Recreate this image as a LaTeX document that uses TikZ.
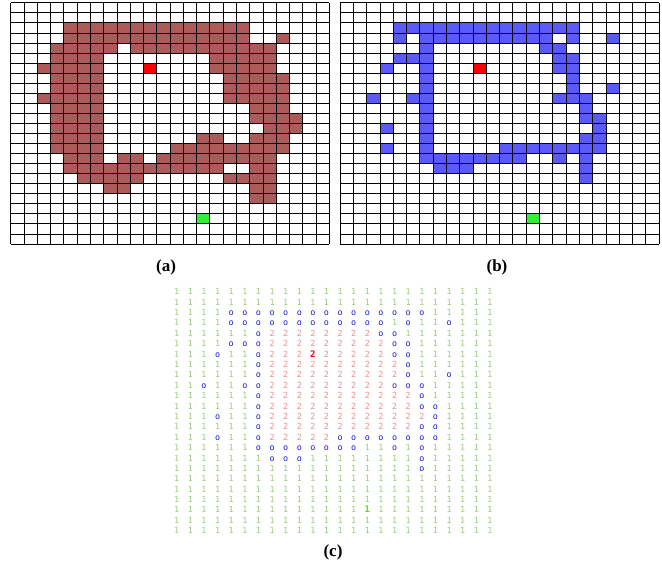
\documentclass[tikz,border=0pt]{standalone}
\usepackage{fontspec}
\newfontfamily\cellfont{DejaVu Sans Mono}
\newfontfamily\capfont{Liberation Serif}
\definecolor{wallbrown}{RGB}{172,90,90}
\definecolor{wallblue}{RGB}{90,90,250}
\definecolor{goalred}{RGB}{255,0,0}
\definecolor{startgreen}{RGB}{50,240,50}
\definecolor{freegreen}{RGB}{155,205,125}
\definecolor{obsblue}{RGB}{25,25,215}
\definecolor{insidered}{RGB}{235,140,140}
\definecolor{markred}{RGB}{235,0,0}
\definecolor{markgreen}{RGB}{90,225,0}

\begin{document}
\begin{tikzpicture}[x=1pt, y=-1pt,
  gridline/.style={black, line width=0.6pt},
  wallA/.style={fill=wallbrown},
  wallB/.style={fill=wallblue},
  goalcell/.style={fill=goalred},
  startcell/.style={fill=startgreen},
  sym/.style={font=\cellfont\fontsize{8.4}{9}\selectfont, anchor=base, inner sep=0pt},
  m1/.style={sym, text=freegreen, node contents=1},
  mo/.style={sym, text=obsblue, node contents=o},
  m2/.style={sym, text=insidered, node contents=2},
  mR/.style={sym, font=\cellfont\bfseries\fontsize{9}{9}\selectfont, text=markred, node contents=2},
  mG/.style={sym, font=\cellfont\bfseries\fontsize{9}{9}\selectfont, text=markgreen, node contents=1},
  panel/.style={font=\capfont\bfseries\fontsize{17}{17}\selectfont},
]
  \useasboundingbox (0,0) rectangle (662,564);

  % (a) occupancy grid
  \begin{scope}[shift={(10.7,2.7)}, x=13.27pt, y=-10.05pt]
    \foreach \r/\a/\b in {2/4/17, 3/4/17, 3/20/20, 4/3/7, 4/9/19, 5/3/6, 5/15/19,
        6/2/6, 6/15/19, 7/3/6, 7/16/20, 8/3/6, 8/16/20, 9/2/6, 9/16/20,
        10/3/6, 10/18/20, 11/3/6, 11/18/21, 12/3/6, 12/19/21,
        13/3/6, 13/14/15, 13/18/20, 14/3/6, 14/12/20,
        15/4/6, 15/8/9, 15/11/19, 16/4/15, 16/18/19,
        17/5/9, 17/16/19, 18/7/8, 18/18/19, 19/18/19}
      \fill[wallA] (\a,\r) rectangle (\b+1,\r+1);
    \fill[goalcell] (10,6) rectangle (11,7);
    \fill[startcell] (14,21) rectangle (15,22);
    \foreach \i in {0,...,24} {
      \draw[gridline] (\i,0) -- (\i,24);
      \draw[gridline] (0,\i) -- (24,\i);
    }
  \end{scope}

  % (b) boundary cells
  \begin{scope}[shift={(340,2.7)}, x=13.29pt, y=-10.05pt]
    \foreach \r/\a/\b in {2/4/17, 3/4/4, 3/6/15, 3/17/17, 3/20/20,
        4/6/6, 4/15/16, 5/4/6, 5/16/17, 6/3/3, 6/6/6, 6/16/17,
        7/6/6, 7/17/17, 8/6/6, 8/17/17, 8/20/20,
        9/2/2, 9/5/6, 9/16/18, 10/6/6, 10/18/18, 11/6/6, 11/18/19,
        12/3/3, 12/6/6, 12/19/19, 13/6/6, 13/18/19,
        14/3/3, 14/6/6, 14/12/19, 15/6/13, 15/16/16, 15/18/18,
        16/7/9, 16/18/18, 17/18/18}
      \fill[wallB] (\a,\r) rectangle (\b+1,\r+1);
    \fill[goalcell] (10,6) rectangle (11,7);
    \fill[startcell] (14,21) rectangle (15,22);
    \foreach \i in {0,...,24} {
      \draw[gridline] (\i,0) -- (\i,24);
      \draw[gridline] (0,\i) -- (24,\i);
    }
  \end{scope}

  % (c) labelled matrix
  \begin{scope}[shift={(176.7,294.8)}, x=13.62pt, y=-10.39pt]
    \foreach \row in {0,1,18,19,20,22,23}
      \foreach \col in {0,...,23}
        \node (s-\row-\col) at (\col,\row) [m1];
    \foreach \row/\cells in {
        2/{1,1,1,1,o,o,o,o,o,o,o,o,o,o,o,o,o,o,o,1,1,1,1,1},
        3/{1,1,1,1,o,o,o,o,o,o,o,o,o,o,o,o,1,o,1,1,o,1,1,1},
        4/{1,1,1,1,1,1,o,2,2,2,2,2,2,2,2,o,o,1,1,1,1,1,1,1},
        5/{1,1,1,1,o,o,o,2,2,2,2,2,2,2,2,2,o,o,1,1,1,1,1,1},
        6/{1,1,1,o,1,1,o,2,2,2,R,2,2,2,2,2,o,o,1,1,1,1,1,1},
        7/{1,1,1,1,1,1,o,2,2,2,2,2,2,2,2,2,2,o,1,1,1,1,1,1},
        8/{1,1,1,1,1,1,o,2,2,2,2,2,2,2,2,2,2,o,1,1,o,1,1,1},
        9/{1,1,o,1,1,o,o,2,2,2,2,2,2,2,2,2,o,o,o,1,1,1,1,1},
        10/{1,1,1,1,1,1,o,2,2,2,2,2,2,2,2,2,2,2,o,1,1,1,1,1},
        11/{1,1,1,1,1,1,o,2,2,2,2,2,2,2,2,2,2,2,o,o,1,1,1,1},
        12/{1,1,1,o,1,1,o,2,2,2,2,2,2,2,2,2,2,2,2,o,1,1,1,1},
        13/{1,1,1,1,1,1,o,2,2,2,2,2,2,2,2,2,2,2,o,o,1,1,1,1},
        14/{1,1,1,o,1,1,o,2,2,2,2,2,o,o,o,o,o,o,o,o,1,1,1,1},
        15/{1,1,1,1,1,1,o,o,o,o,o,o,o,o,1,1,o,1,o,1,1,1,1,1},
        16/{1,1,1,1,1,1,1,o,o,o,1,1,1,1,1,1,1,1,o,1,1,1,1,1},
        17/{1,1,1,1,1,1,1,1,1,1,1,1,1,1,1,1,1,1,o,1,1,1,1,1},
        21/{1,1,1,1,1,1,1,1,1,1,1,1,1,1,G,1,1,1,1,1,1,1,1,1}}
      \foreach \ch [count=\col from 0] in \cells
        \node (s-\row-\col) at (\col,\row) [m\ch];
  \end{scope}

  % panel captions
  \node[panel] (capA) at (166,267) {(a)};
  \node[panel] (capB) at (497,267) {(b)};
  \node[panel] (capC) at (333,552) {(c)};
\end{tikzpicture}
\end{document}
